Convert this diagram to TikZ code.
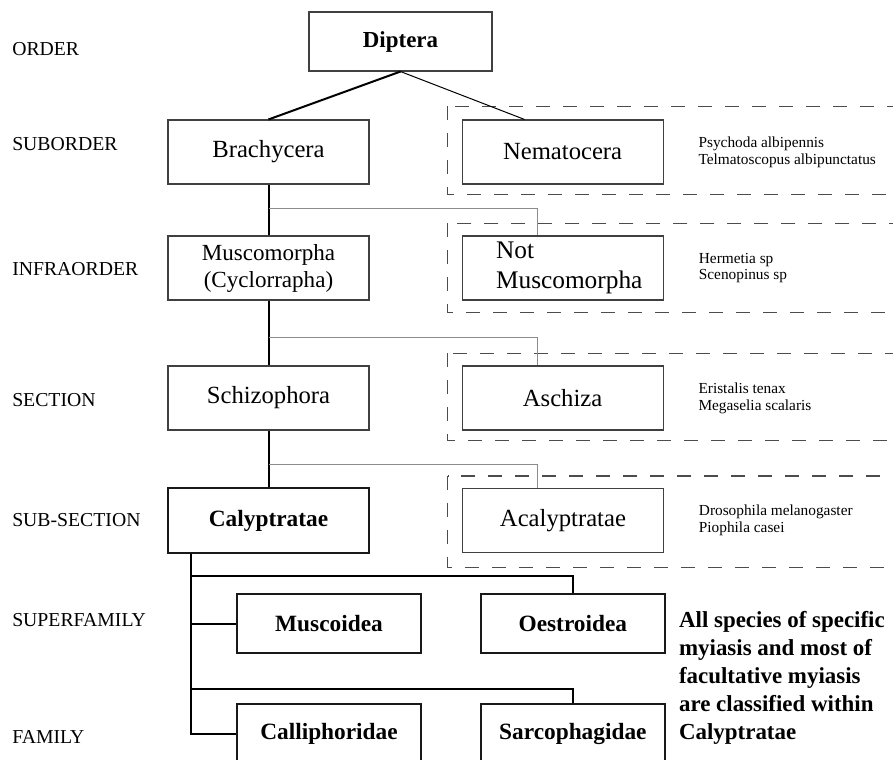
\documentclass[tikz,border=0pt]{standalone}
\usepackage{fontspec}
\setmainfont{Liberation Serif}
\usetikzlibrary{positioning,calc}

\begin{document}
\begin{tikzpicture}[x=0.75pt, y=-0.75pt,
  box/.style={draw=black!75, line width=0.8pt, minimum width=150.75pt,
    minimum height=48pt, inner sep=2pt, font=\fontsize{18.5}{22}\selectfont},
  boldbox/.style={draw=black!90, line width=1.4pt, minimum width=138pt,
    minimum height=44.25pt, inner sep=2pt, font=\fontsize{17.5}{21}\selectfont\bfseries},
  rank/.style={anchor=west, inner sep=0pt, font=\fontsize{14.8}{17}\selectfont},
  species/.style={align=left, inner sep=0pt, font=\fontsize{11.5}{12.5}\selectfont},
  dashbox/.style={draw=black!70, line width=0.8pt, dash pattern=on 10.5pt off 9.75pt},
  trunk/.style={line width=1.5pt},
  twig/.style={draw=black!45, line width=0.6pt}]
  \useasboundingbox (0,0) rectangle (893,760);
  \clip (0,0) rectangle (893,760);

  \node[rank] (lorder) at (12,49.5)  {ORDER};
  \node[rank] (lsub)   at (12,144)   {SUBORDER};
  \node[rank] (linfra) at (12,269)   {INFRAORDER};
  \node[rank] (lsect)  at (12,400)   {SECTION};
  \node[rank] (lsubs)  at (12,520.5) {SUB-SECTION};
  \node[rank] (lsuper) at (12,620.5) {SUPERFAMILY};
  \node[rank] (lfam)   at (12,736.5) {FAMILY};

  \node[box, minimum width=137.25pt, minimum height=44.25pt,
    font=\fontsize{17.2}{21}\selectfont\bfseries] (dipt) at (400.5,41.5) {Diptera};
  \node[box] (brach) at (268.5,152) {Brachycera};
  \node[box, right=69pt of brach] (nema) {Nematocera};
  \node[box, align=center, font=\fontsize{17.3}{20.25}\selectfont] (musco) at (268.5,268)
    {Muscomorpha\\(Cyclorrapha)};
  \node[box, right=69pt of musco, align=left, text width=100pt, inner xsep=25.5pt,
    font=\fontsize{19}{22.5}\selectfont] (notmus) {Not\\Muscomorpha};
  \node[box] (schiz) at (268.5,398) {Schizophora};
  \node[box, right=69pt of schiz] (asch) {Aschiza};
  \node[boldbox, minimum width=150.75pt, minimum height=48.75pt] (calyp) at (268.5,520.5) {Calyptratae};
  \node[box, right=69pt of calyp] (acal) {Acalyptratae};

  \node[boldbox] (musc) at (329,623.5) {Muscoidea};
  \node[boldbox, right=43.5pt of musc] (oest) {Oestroidea};
  \node[boldbox] (calli) at (329,733.5) {Calliphoridae};
  \node[boldbox, right=43.5pt of calli] (sarco) {Sarcophagidae};

  \node[species, right=26pt of nema]   (nemasp) {Psychoda albipennis\\Telmatoscopus albipunctatus};
  \node[species, right=26pt of notmus] (notsp)  {Hermetia sp\\Scenopinus sp};
  \node[species, right=26pt of asch]   (aschsp) {Eristalis tenax\\Megaselia scalaris};
  \node[species, right=26pt of acal]   (acalsp) {Drosophila melanogaster\\Piophila casei};

  \node[anchor=north west, align=left, inner sep=0pt,
    font=\fontsize{17.2}{21}\selectfont\bfseries] (remark) at ($(oest.north east)+(13,18)$)
    {All species of specific\\myiasis and most of\\facultative myiasis\\are classified within\\Calyptratae};

  \draw[dashbox] ($(nema.north west)+(-14,-13)$) rectangle ($(nema.south east)+(260,10)$);
  \draw[dashbox] ($(notmus.north west)+(-14,-12)$) rectangle ($(notmus.south east)+(260,12)$);
  \draw[dashbox] ($(asch.north west)+(-14,-12)$) rectangle ($(asch.south east)+(260,10)$);
  \draw[dashbox] ($(acal.north west)+(-14,-12)$) rectangle ($(acal.south east)+(260,14)$);

  \draw[trunk] (dipt.south) -- (brach.north);
  \draw[line width=0.75pt] (dipt.south) -- ($(nema.north)+(-38,0)$);
  \draw[trunk] (brach.south) -- (musco.north) (musco.south) -- (schiz.north)
    (schiz.south) -- (calyp.north);
  \draw[twig] ($(brach.south)+(0,24)$) -| ($(notmus.north)+(-25.5,0)$);
  \draw[twig] ($(musco.south)+(0,37)$) -| ($(asch.north)+(-25.5,0)$);
  \draw[twig] ($(schiz.south)+(0,34)$) -| ($(acal.north)+(-25.5,0)$);

  \coordinate (root) at ($(calyp.south west)+(24,0)$);
  \draw[trunk] (root) |- (calli.west);
  \draw[trunk] (root) |- (musc.west);
  \draw[trunk] (root) |- ($(oest.north)+(0,-17)$) -- (oest.north);
  \draw[trunk] (root) |- ($(sarco.north)+(0,-14)$) -- (sarco.north);
\end{tikzpicture}
\end{document}
